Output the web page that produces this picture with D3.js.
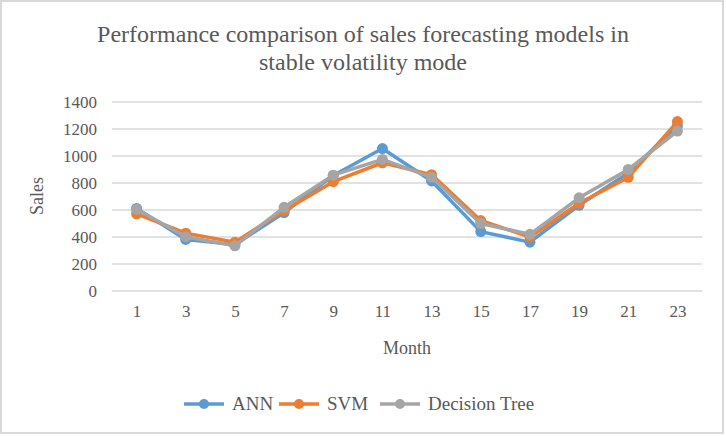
<!DOCTYPE html>
<html>
<head>
<meta charset="utf-8">
<script src="https://cdn.jsdelivr.net/npm/d3@7"></script>
<style>
  body { margin: 0; background: #fff; }
</style>
</head>
<body>
<svg id="chart"></svg>
<script>
// chart data
var months = [1, 3, 5, 7, 9, 11, 13, 15, 17, 19, 21, 23];
var ann = [612, 382, 345, 580, 855, 1055, 815, 440, 362, 635, 875, 1225];
var svm = [572, 428, 362, 595, 810, 950, 862, 522, 400, 650, 842, 1255];
var tree = [605, 402, 335, 620, 858, 975, 842, 500, 420, 690, 900, 1185];
var yTicks = [0, 200, 400, 600, 800, 1000, 1200, 1400];
var seriesNames = ['ANN', 'SVM', 'Decision Tree'];
var colors = ['#5B9BD5', '#ED7D31', '#A5A5A5'];

var serif = "'Liberation Serif', 'Times New Roman', Times, serif";
var svgWidth = 726, svgHeight = 436;
var svg = d3.select('#chart').attr('width', svgWidth).attr('height', svgHeight)
    .attr('font-family', serif);

// outer border
svg.append('rect').attr('x', 1).attr('y', 1).attr('width', svgWidth - 4).attr('height', svgHeight - 4)
    .attr('fill', '#fff').attr('stroke', '#d9d9d9').attr('stroke-width', 2);

var x = d3.scalePoint().domain(months).range([112, 702]).padding(0.5);
var y = d3.scaleLinear().domain([0, 1400]).range([291, 102]);

// gridlines
svg.append('g').selectAll('line').data(yTicks).enter().append('line')
    .attr('x1', 112).attr('x2', 702)
    .attr('y1', function (d) { return y(d); }).attr('y2', function (d) { return y(d); })
    .attr('stroke', '#d9d9d9').attr('stroke-width', 1.3);

// y axis labels
var yAxis = svg.append('g').attr('transform', 'translate(97,0)')
    .call(d3.axisLeft(y).tickValues(yTicks).tickFormat(d3.format('d')).tickSize(0).tickPadding(0));
yAxis.attr('font-family', serif).attr('font-size', 17);
yAxis.select('.domain').remove();
yAxis.selectAll('text').attr('fill', '#595959');

// x axis labels
var xAxis = svg.append('g').attr('transform', 'translate(0,305)')
    .call(d3.axisBottom(x).tickSize(0).tickPadding(0));
xAxis.attr('font-family', serif).attr('font-size', 17);
xAxis.select('.domain').remove();
xAxis.selectAll('text').attr('fill', '#595959');

// titles
var title = svg.append('text').attr('text-anchor', 'middle').attr('font-size', 24).attr('fill', '#595959');
title.append('tspan').attr('x', 363).attr('y', 42).text('Performance comparison of sales forecasting models in');
title.append('tspan').attr('x', 363).attr('y', 70).text('stable volatility mode');

svg.append('text').attr('x', 407).attr('y', 354).attr('text-anchor', 'middle')
    .attr('font-size', 18).attr('fill', '#595959').text('Month');
svg.append('text').attr('transform', 'translate(43,196) rotate(-90)').attr('text-anchor', 'middle')
    .attr('font-size', 18).attr('fill', '#595959').text('Sales');

// series
var allSeries = [ann, svm, tree];
var line = d3.line().x(function (d, i) { return x(months[i]); }).y(function (d) { return y(d); });
allSeries.forEach(function (vals, k) {
    var g = svg.append('g');
    g.append('path').datum(vals).attr('d', line).attr('fill', 'none')
        .attr('stroke', colors[k]).attr('stroke-width', 3.5).attr('stroke-linejoin', 'round');
    g.selectAll('circle').data(vals).enter().append('circle')
        .attr('cx', function (d, i) { return x(months[i]); })
        .attr('cy', function (d) { return y(d); })
        .attr('r', 5.5).attr('fill', colors[k]);
});

// legend
var legendX = [184, 279, 380];
var legend = svg.append('g');
seriesNames.forEach(function (name, k) {
    var lg = legend.append('g').attr('transform', 'translate(' + legendX[k] + ',404)');
    lg.append('line').attr('x1', 0).attr('x2', 40).attr('stroke', colors[k]).attr('stroke-width', 3.5);
    lg.append('circle').attr('cx', 20).attr('r', 5).attr('fill', colors[k]);
    lg.append('text').attr('x', 48).attr('y', 6).attr('font-size', 19).attr('fill', '#595959').text(name);
});
</script>
</body>
</html>
